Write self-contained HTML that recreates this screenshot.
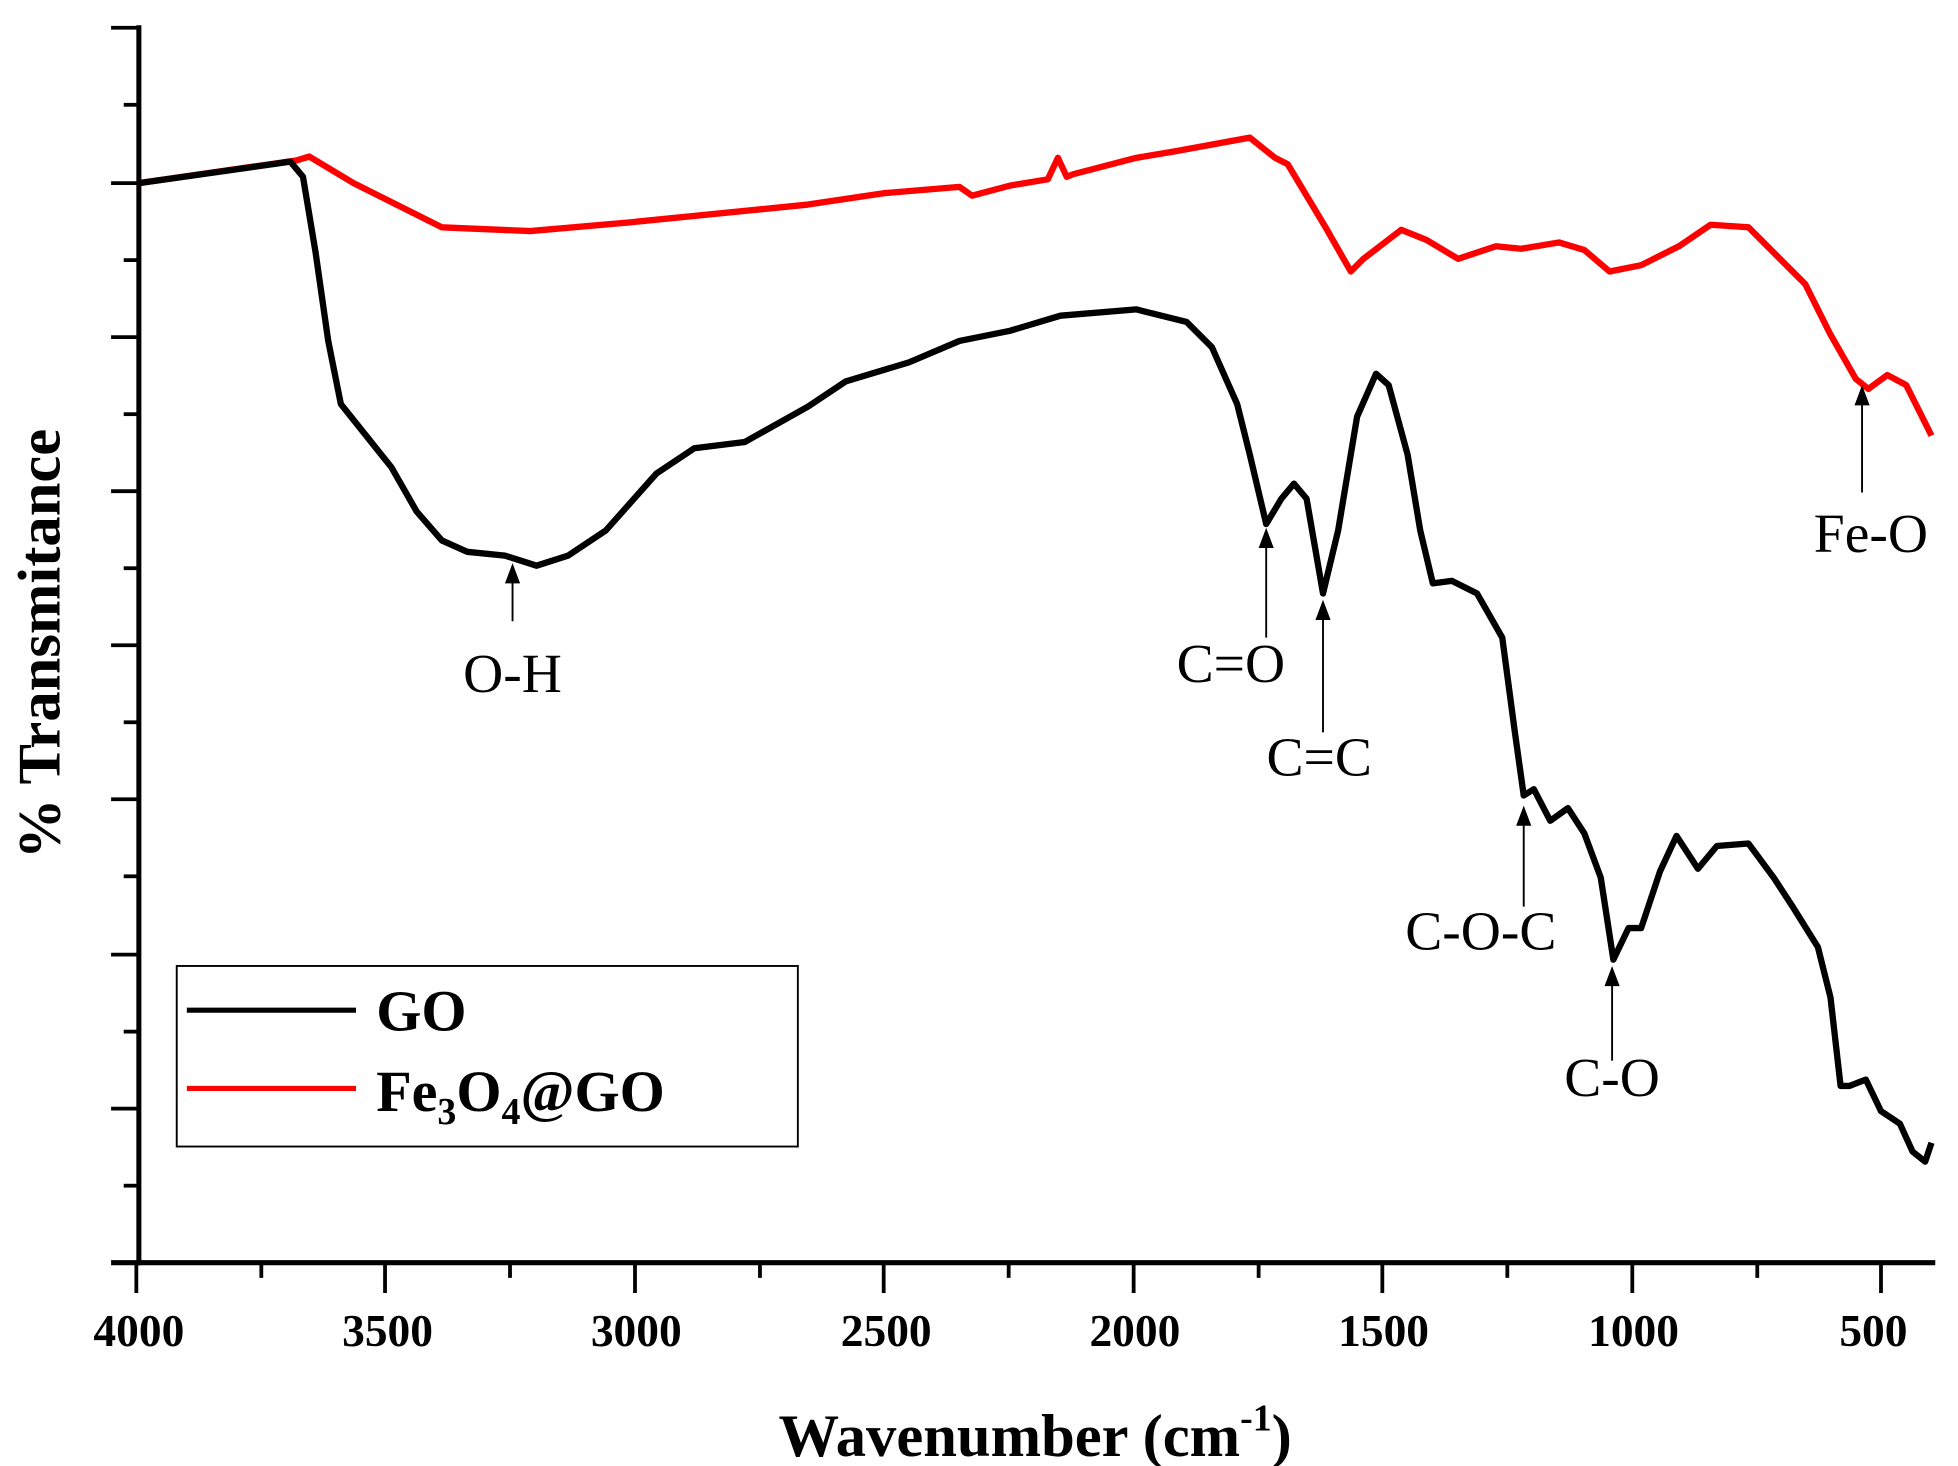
<!DOCTYPE html>
<html><head><meta charset="utf-8"><style>html,body{margin:0;padding:0;background:#fff}svg{display:block}</style></head>
<body>
<svg width="1958" height="1466" viewBox="0 0 1551 1161" preserveAspectRatio="none" xmlns="http://www.w3.org/2000/svg" font-family="'Liberation Serif', serif">
<g stroke="#000" stroke-width="4" fill="none">
<line x1="110" y1="20" x2="110" y2="1002"/>
<line x1="88" y1="1000" x2="1533" y2="1000"/>
</g>
<g stroke="#000" stroke-width="3">
<line x1="88" y1="22" x2="110" y2="22"/><line x1="98" y1="83" x2="110" y2="83"/>
<line x1="88" y1="145" x2="110" y2="145"/><line x1="98" y1="206" x2="110" y2="206"/>
<line x1="88" y1="267" x2="110" y2="267"/><line x1="98" y1="328" x2="110" y2="328"/>
<line x1="88" y1="389" x2="110" y2="389"/><line x1="98" y1="450" x2="110" y2="450"/>
<line x1="88" y1="511" x2="110" y2="511"/><line x1="98" y1="572" x2="110" y2="572"/>
<line x1="88" y1="633" x2="110" y2="633"/><line x1="98" y1="694" x2="110" y2="694"/>
<line x1="88" y1="756" x2="110" y2="756"/><line x1="98" y1="817" x2="110" y2="817"/>
<line x1="88" y1="878" x2="110" y2="878"/><line x1="98" y1="939" x2="110" y2="939"/>
<line x1="108" y1="1000" x2="108" y2="1024"/><line x1="207" y1="1000" x2="207" y2="1012"/>
<line x1="305" y1="1000" x2="305" y2="1024"/><line x1="404" y1="1000" x2="404" y2="1012"/>
<line x1="503" y1="1000" x2="503" y2="1024"/><line x1="602" y1="1000" x2="602" y2="1012"/>
<line x1="700" y1="1000" x2="700" y2="1024"/><line x1="799" y1="1000" x2="799" y2="1012"/>
<line x1="898" y1="1000" x2="898" y2="1024"/><line x1="997" y1="1000" x2="997" y2="1012"/>
<line x1="1095" y1="1000" x2="1095" y2="1024"/><line x1="1194" y1="1000" x2="1194" y2="1012"/>
<line x1="1293" y1="1000" x2="1293" y2="1024"/><line x1="1392" y1="1000" x2="1392" y2="1012"/>
<line x1="1490" y1="1000" x2="1490" y2="1024"/>
</g>
<g font-size="36" font-weight="bold" text-anchor="middle" fill="#000">
<text x="110" y="1066">4000</text><text x="307" y="1066">3500</text><text x="504" y="1066">3000</text>
<text x="702" y="1066">2500</text><text x="899" y="1066">2000</text><text x="1096" y="1066">1500</text>
<text x="1294" y="1066">1000</text><text x="1484" y="1066">500</text>
</g>
<text x="820" y="1153" font-size="48" font-weight="bold" text-anchor="middle">Wavenumber (cm<tspan font-size="30" dy="-20">-1</tspan><tspan dy="20">)</tspan></text>
<text transform="translate(47,510) rotate(-90)" font-size="48" font-weight="bold" text-anchor="middle">% Transmitance</text>
<polyline fill="none" stroke="#f00" stroke-width="5" stroke-linejoin="round" points="110,145 235,127 245,124 280,145 350,180 420,183 500,176 640,162 700,153 760,148 770,155 800,147 830,142 838,125 845,140 850,138 900,125 930,120 990,109 1010,125 1020,130 1050,180 1070,215 1080,205 1110,182 1130,190 1155,205 1185,195 1205,197 1235,192 1255,198 1275,215 1300,210 1330,195 1355,178 1385,180 1400,195 1430,225 1450,265 1470,300 1480,308 1495,297 1510,305 1520,325 1530,345"/>
<polyline fill="none" stroke="#000" stroke-width="5" stroke-linejoin="round" points="110,145 230,128 240,140 250,200 260,270 270,320 290,345 310,370 330,405 350,428 370,437 400,440 425,448 450,440 480,420 520,375 550,355 590,350 640,322 670,302 720,287 760,270 800,262 840,250 900,245 940,255 960,275 980,320 990,360 1003,415 1015,395 1025,383 1035,395 1048,470 1060,420 1075,330 1090,296 1100,305 1115,360 1125,420 1135,462 1150,460 1170,470 1190,505 1200,580 1207,630 1215,625 1228,650 1242,640 1255,660 1268,695 1278,760 1290,735 1300,735 1315,690 1328,662 1345,688 1360,670 1385,668 1405,695 1420,718 1440,750 1450,790 1458,860 1465,860 1478,855 1490,880 1505,890 1515,912 1525,920 1530,905"/>
<rect x="140" y="765" width="492" height="143" fill="#fff" stroke="#000" stroke-width="1.5"/>
<line x1="148" y1="800" x2="282" y2="800" stroke="#000" stroke-width="4"/>
<line x1="148" y1="862" x2="282" y2="862" stroke="#f00" stroke-width="4"/>
<text x="298" y="816" font-size="46" font-weight="bold">GO</text>
<text x="298" y="880" font-size="46" font-weight="bold">Fe<tspan font-size="30" dy="10">3</tspan><tspan dy="-10">O</tspan><tspan font-size="30" dy="10">4</tspan><tspan dy="-10">@GO</tspan></text>
<g stroke="#000" stroke-width="1.5">
<line x1="406" y1="492" x2="406" y2="458"/><line x1="1003" y1="505" x2="1003" y2="430"/>
<line x1="1048" y1="580" x2="1048" y2="487"/><line x1="1207" y1="718" x2="1207" y2="650"/>
<line x1="1277" y1="840" x2="1277" y2="777"/><line x1="1475" y1="390" x2="1475" y2="317"/>
</g>
<g fill="#000">
<polygon points="406,446 400,462 412,462"/><polygon points="1003,418 997,434 1009,434"/>
<polygon points="1048,475 1042,491 1054,491"/><polygon points="1207,638 1201,654 1213,654"/>
<polygon points="1277,765 1271,781 1283,781"/><polygon points="1475,305 1469,321 1481,321"/>
</g>
<g font-size="44" text-anchor="middle" fill="#000">
<text x="406" y="548">O-H</text><text x="975" y="540">C=O</text><text x="1045" y="614">C=C</text>
<text x="1173" y="752">C-O-C</text><text x="1277" y="868">C-O</text><text x="1482" y="437">Fe-O</text>
</g>
</svg>
</body></html>
